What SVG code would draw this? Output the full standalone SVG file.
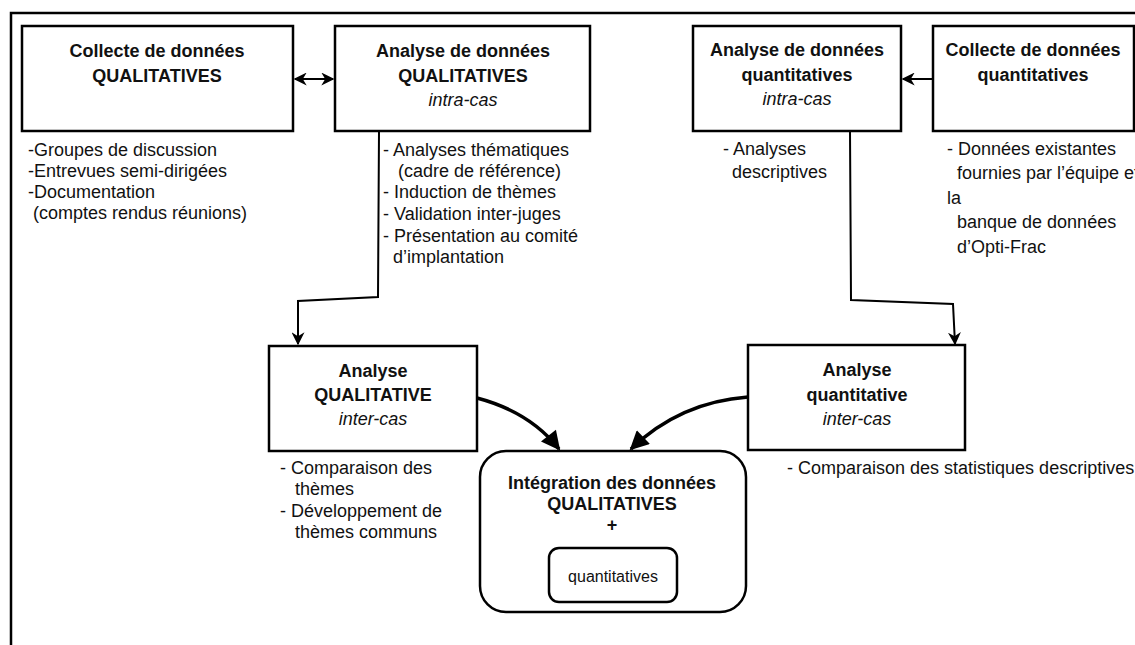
<svg xmlns="http://www.w3.org/2000/svg" width="1135" height="645" viewBox="0 0 1135 645">
<defs>
<style>
.box{fill:#fff;stroke:#000;stroke-width:2.5}
.t{font-family:"Liberation Sans",Arial,sans-serif;font-size:18px;fill:#111}
.b{font-weight:bold;text-anchor:middle}
.i{font-style:italic;text-anchor:middle}
.ln{fill:none;stroke:#000;stroke-width:2}
.cv{fill:none;stroke:#000;stroke-width:3.5}
</style>
<marker id="ah2" viewBox="0 0 10 10" refX="9" refY="5" markerWidth="13" markerHeight="13" orient="auto-start-reverse" markerUnits="userSpaceOnUse">
<path d="M0,0 L10,5 L0,10 L3,5 Z" fill="#000"/>
</marker>
<marker id="ah3" viewBox="0 0 10 10" refX="9" refY="5" markerWidth="22" markerHeight="19" orient="auto" markerUnits="userSpaceOnUse">
<path d="M0,0 L10,5 L0,10 Z" fill="#000"/>
</marker>
</defs>
<rect width="1135" height="645" fill="#fff"/>
<path d="M11,660 L11,13 L1150,13" fill="none" stroke="#000" stroke-width="2.5"/>

<g id="connectors">
<line class="ln" x1="295" y1="79" x2="333" y2="79" marker-start="url(#ah2)" marker-end="url(#ah2)"/>
<line class="ln" x1="933" y1="79" x2="903" y2="79" marker-end="url(#ah2)"/>
<polyline class="ln" points="379,131 378,297 298,301 298,344" marker-end="url(#ah2)"/>
<polyline class="ln" points="850,131 851,300 953,304 955,344" marker-end="url(#ah2)"/>
<path class="cv" d="M477,398 Q530,412 559,449" marker-end="url(#ah3)"/>
<path class="cv" d="M748,397 Q680,402 631,449" marker-end="url(#ah3)"/>
</g>

<g id="n1">
<rect class="box" x="22" y="26" width="271" height="105"/>
<text class="t b" x="157" y="57">Collecte de données</text>
<text class="t b" x="157" y="82">QUALITATIVES</text>
</g>
<g id="n1-list">
<text class="t" x="28" y="156">-Groupes de discussion</text>
<text class="t" x="28" y="177">-Entrevues semi-dirigées</text>
<text class="t" x="28" y="198">-Documentation</text>
<text class="t" x="33" y="219">(comptes rendus réunions)</text>
</g>

<g id="n2">
<rect class="box" x="335" y="26" width="255" height="105"/>
<text class="t b" x="463" y="57">Analyse de données</text>
<text class="t b" x="463" y="82">QUALITATIVES</text>
<text class="t i" x="463" y="106">intra-cas</text>
</g>
<g id="n2-list">
<text class="t" x="383" y="156">- Analyses thématiques</text>
<text class="t" x="398" y="177">(cadre de référence)</text>
<text class="t" x="383" y="198">- Induction de thèmes</text>
<text class="t" x="383" y="220">- Validation inter-juges</text>
<text class="t" x="383" y="242">- Présentation au comité</text>
<text class="t" x="393" y="263">d’implantation</text>
</g>

<g id="n5">
<rect class="box" x="693" y="26" width="208" height="105"/>
<text class="t b" x="797" y="56">Analyse de données</text>
<text class="t b" x="797" y="81">quantitatives</text>
<text class="t i" x="797" y="105">intra-cas</text>
</g>
<g id="n5-list">
<text class="t" x="723" y="155">- Analyses</text>
<text class="t" x="732" y="178">descriptives</text>
</g>

<g id="n6">
<rect class="box" x="933" y="26" width="201" height="105"/>
<text class="t b" x="1033" y="56">Collecte de données</text>
<text class="t b" x="1033" y="81">quantitatives</text>
</g>
<g id="n6-list">
<text class="t" x="947" y="155">- Données existantes</text>
<text class="t" x="957" y="179">fournies par l’équipe et</text>
<text class="t" x="947" y="204">la</text>
<text class="t" x="957" y="228">banque de données</text>
<text class="t" x="957" y="253">d’Opti-Frac</text>
</g>

<g id="n3">
<rect class="box" x="269" y="346" width="208" height="105"/>
<text class="t b" x="373" y="377">Analyse</text>
<text class="t b" x="373" y="401">QUALITATIVE</text>
<text class="t i" x="373" y="425">inter-cas</text>
</g>
<g id="n3-list">
<text class="t" x="280" y="474">- Comparaison des</text>
<text class="t" x="295" y="495">thèmes</text>
<text class="t" x="280" y="517">- Développement de</text>
<text class="t" x="295" y="538">thèmes communs</text>
</g>

<g id="n4">
<rect class="box" x="748" y="345" width="217" height="105"/>
<text class="t b" x="857" y="376">Analyse</text>
<text class="t b" x="857" y="401">quantitative</text>
<text class="t i" x="857" y="425">inter-cas</text>
</g>
<g id="n4-list">
<text class="t" x="787" y="474">- Comparaison des statistiques descriptives</text>
</g>

<g id="n7">
<rect class="box" x="480" y="451" width="266" height="161" rx="26" ry="26"/>
<text class="t b" x="612" y="489">Intégration des données</text>
<text class="t b" x="612" y="510">QUALITATIVES</text>
<text class="t b" x="612" y="531">+</text>
<rect class="box" x="549" y="548" width="128" height="54" rx="10" ry="10"/>
<text class="t" x="613" y="582" text-anchor="middle" style="font-size:16px">quantitatives</text>
</g>
</svg>
